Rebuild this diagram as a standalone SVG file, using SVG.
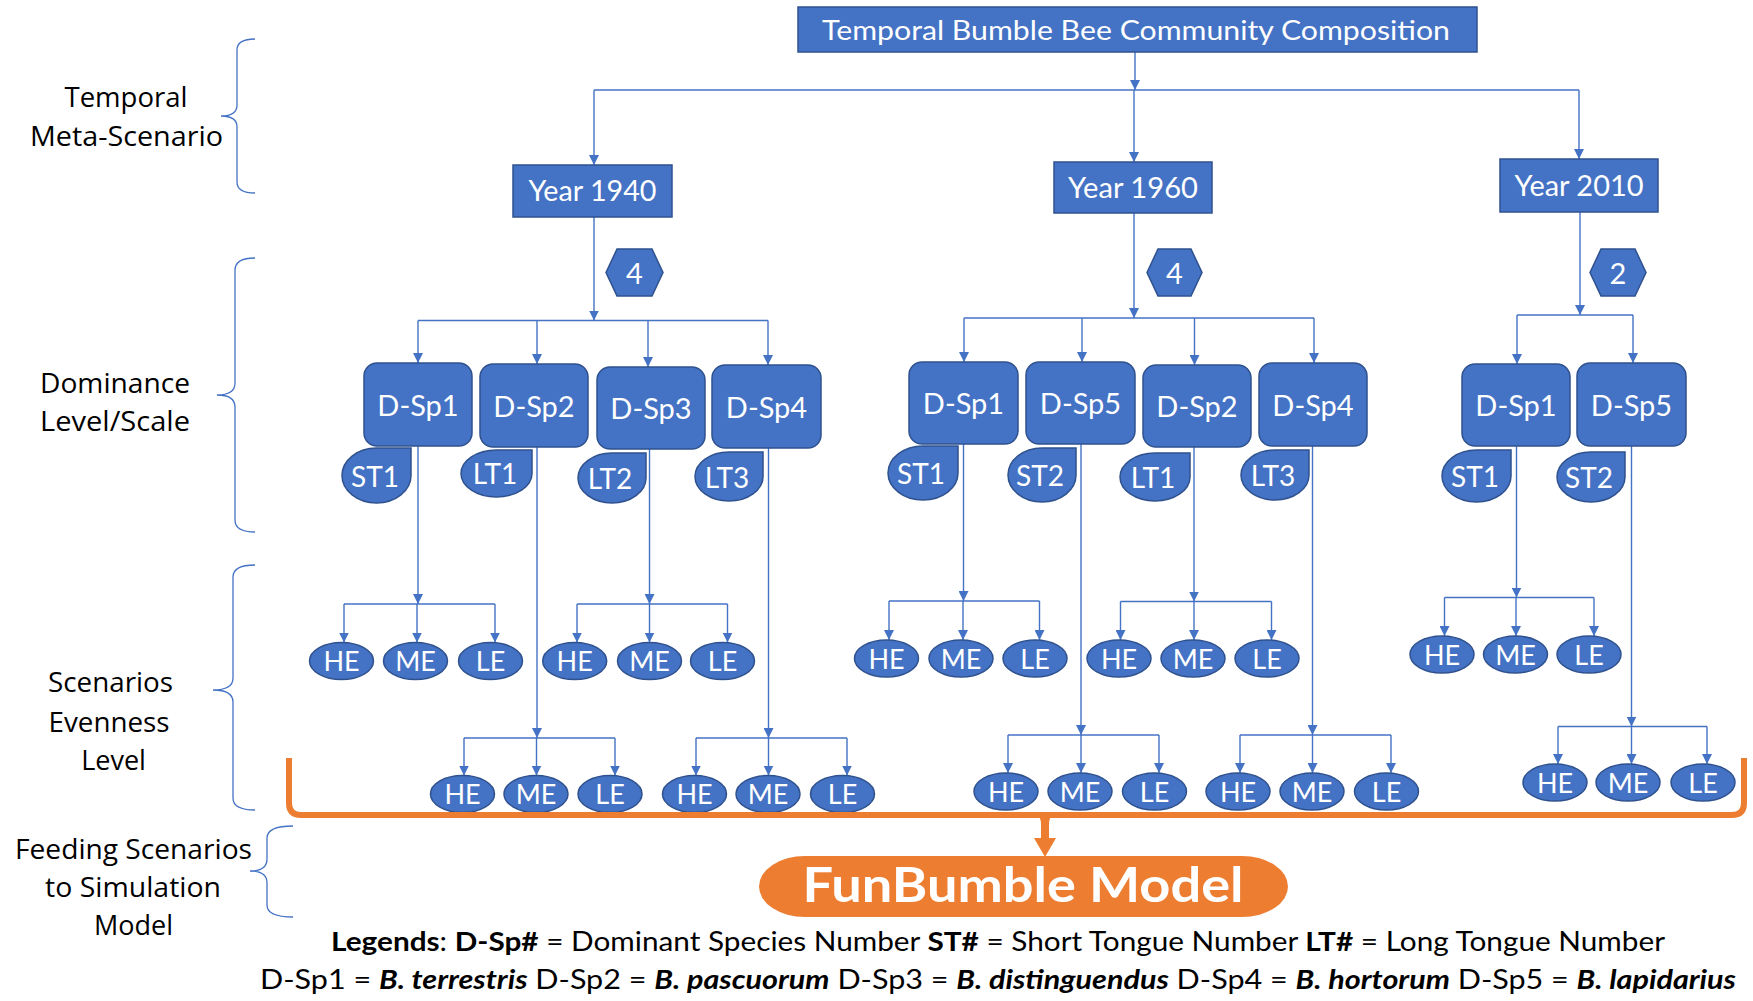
<svg xmlns="http://www.w3.org/2000/svg" width="1753" height="1001" viewBox="0 0 1753 1001">
<defs>
<style>
.box{fill:#4472C4;stroke:#2F528F;stroke-width:1.5}
.wt{fill:#fff;font-family:Lato,"Open Sans",sans-serif;text-anchor:middle}
.c{stroke:#4472C4;stroke-width:1.4;fill:none}
.ca{stroke:#4472C4;stroke-width:1.4;fill:none;marker-end:url(#arr)}
.lbl{fill:#000;font-family:"Open Sans",sans-serif;font-size:27px;text-anchor:middle}
.br{stroke:#4472C4;stroke-width:1.3;fill:none}
.leg{fill:#000;font-family:Lato,sans-serif;font-size:26px}
.b{font-weight:bold}
.bi{font-weight:bold;font-style:italic}
</style>
<marker id="arr" viewBox="0 0 10 10" refX="10" refY="5" markerWidth="10" markerHeight="10" markerUnits="userSpaceOnUse" orient="auto"><path d="M0,0 L10,5 L0,10 Z" fill="#4472C4"/></marker>
</defs>
<rect width="1753" height="1001" fill="#fff"/>

<g id="side-labels">
<path class="br" d="M255,39 Q237,39 237,50 V105 Q237,116 221,116 Q237,116 237,127 V182 Q237,193 255,193"/>
<text class="lbl" x="126" y="107" textLength="123" lengthAdjust="spacingAndGlyphs">Temporal</text>
<text class="lbl" x="126.5" y="146" textLength="193" lengthAdjust="spacingAndGlyphs">Meta-Scenario</text>
<path class="br" d="M255,258 Q235,258 235,270 V383 Q235,395 217,395 Q235,395 235,407 V520 Q235,532 255,532"/>
<text class="lbl" x="115" y="393" textLength="150" lengthAdjust="spacingAndGlyphs">Dominance</text>
<text class="lbl" x="115" y="431" textLength="150" lengthAdjust="spacingAndGlyphs">Level/Scale</text>
<path class="br" d="M255,565 Q233,565 233,577 V678 Q233,690 213,690 Q233,690 233,702 V798 Q233,810 255,810"/>
<text class="lbl" x="110.5" y="692" textLength="125" lengthAdjust="spacingAndGlyphs">Scenarios</text>
<text class="lbl" x="109" y="732" textLength="121" lengthAdjust="spacingAndGlyphs">Evenness</text>
<text class="lbl" x="113.5" y="770">Level</text>
<path class="br" d="M293,826 Q267,826 267,838 V859 Q267,871 250,871 Q267,871 267,883 V905 Q267,917 293,917"/>
<text class="lbl" x="133.5" y="859" textLength="237" lengthAdjust="spacingAndGlyphs">Feeding Scenarios</text>
<text class="lbl" x="133" y="897" textLength="176" lengthAdjust="spacingAndGlyphs">to Simulation</text>
<text class="lbl" x="133.5" y="935">Model</text>
</g>

<g id="connectors">
<line class="ca" x1="1135" y1="52" x2="1135" y2="90"/>
<line class="c" x1="594" y1="90" x2="1579" y2="90"/>
<line class="ca" x1="594" y1="90" x2="594" y2="165"/>
<line class="ca" x1="1134" y1="90" x2="1134" y2="162"/>
<line class="ca" x1="1579" y1="90" x2="1579" y2="159"/>

<line class="ca" x1="594" y1="217" x2="594" y2="320.5"/>
<line class="c" x1="418" y1="320.5" x2="768" y2="320.5"/>
<line class="ca" x1="418" y1="320.5" x2="418" y2="363"/>
<line class="ca" x1="537" y1="320.5" x2="537" y2="364"/>
<line class="ca" x1="648" y1="320.5" x2="648" y2="367"/>
<line class="ca" x1="768" y1="320.5" x2="768" y2="365"/>

<line class="ca" x1="1134" y1="213" x2="1134" y2="318"/>
<line class="c" x1="964" y1="318" x2="1314" y2="318"/>
<line class="ca" x1="964" y1="318" x2="964" y2="362"/>
<line class="ca" x1="1082" y1="318" x2="1082" y2="362"/>
<line class="ca" x1="1194.5" y1="318" x2="1194.5" y2="365"/>
<line class="ca" x1="1314" y1="318" x2="1314" y2="363"/>

<line class="ca" x1="1580" y1="212" x2="1580" y2="315"/>
<line class="c" x1="1517" y1="315" x2="1633" y2="315"/>
<line class="ca" x1="1517" y1="315" x2="1517" y2="364"/>
<line class="ca" x1="1633" y1="315" x2="1633" y2="363"/>

<line class="ca" x1="418" y1="446" x2="418" y2="604"/>
<line class="c" x1="344" y1="604" x2="495" y2="604"/>
<line class="ca" x1="344" y1="604" x2="344" y2="642.5"/>
<line class="ca" x1="417" y1="604" x2="417" y2="642.5"/>
<line class="ca" x1="495" y1="604" x2="495" y2="642.5"/>

<line class="ca" x1="649.5" y1="449" x2="649.5" y2="604"/>
<line class="c" x1="577" y1="604" x2="727.5" y2="604"/>
<line class="ca" x1="577" y1="604" x2="577" y2="642.5"/>
<line class="ca" x1="649.5" y1="604" x2="649.5" y2="642.5"/>
<line class="ca" x1="727.5" y1="604" x2="727.5" y2="642.5"/>

<line class="ca" x1="537" y1="447" x2="537" y2="738"/>
<line class="c" x1="464" y1="738" x2="615" y2="738"/>
<line class="ca" x1="464" y1="738" x2="464" y2="775.5"/>
<line class="ca" x1="536.5" y1="738" x2="536.5" y2="775.5"/>
<line class="ca" x1="615" y1="738" x2="615" y2="775.5"/>

<line class="ca" x1="768.5" y1="448" x2="768.5" y2="738"/>
<line class="c" x1="696" y1="738" x2="847" y2="738"/>
<line class="ca" x1="696" y1="738" x2="696" y2="775.5"/>
<line class="ca" x1="768.5" y1="738" x2="768.5" y2="775.5"/>
<line class="ca" x1="847" y1="738" x2="847" y2="775.5"/>

<line class="ca" x1="963.5" y1="444" x2="963.5" y2="601"/>
<line class="c" x1="889" y1="601" x2="1039.5" y2="601"/>
<line class="ca" x1="889" y1="601" x2="889" y2="640"/>
<line class="ca" x1="963" y1="601" x2="963" y2="640"/>
<line class="ca" x1="1039.5" y1="601" x2="1039.5" y2="640"/>

<line class="ca" x1="1194" y1="447" x2="1194" y2="601.5"/>
<line class="c" x1="1120.5" y1="601.5" x2="1271.5" y2="601.5"/>
<line class="ca" x1="1120.5" y1="601.5" x2="1120.5" y2="640"/>
<line class="ca" x1="1194" y1="601.5" x2="1194" y2="640"/>
<line class="ca" x1="1271.5" y1="601.5" x2="1271.5" y2="640"/>

<line class="ca" x1="1081" y1="444" x2="1081" y2="735"/>
<line class="c" x1="1008" y1="735" x2="1159" y2="735"/>
<line class="ca" x1="1008" y1="735" x2="1008" y2="773"/>
<line class="ca" x1="1081" y1="735" x2="1081" y2="773"/>
<line class="ca" x1="1159" y1="735" x2="1159" y2="773"/>

<line class="ca" x1="1312.5" y1="446" x2="1312.5" y2="735"/>
<line class="c" x1="1240" y1="735" x2="1391" y2="735"/>
<line class="ca" x1="1240" y1="735" x2="1240" y2="773"/>
<line class="ca" x1="1312.5" y1="735" x2="1312.5" y2="773"/>
<line class="ca" x1="1391" y1="735" x2="1391" y2="773"/>

<line class="ca" x1="1516.5" y1="446" x2="1516.5" y2="597.5"/>
<line class="c" x1="1444.5" y1="597.5" x2="1594" y2="597.5"/>
<line class="ca" x1="1444.5" y1="597.5" x2="1444.5" y2="636"/>
<line class="ca" x1="1516" y1="597.5" x2="1516" y2="636"/>
<line class="ca" x1="1594" y1="597.5" x2="1594" y2="636"/>

<line class="ca" x1="1631.5" y1="446" x2="1631.5" y2="726.5"/>
<line class="c" x1="1558" y1="726.5" x2="1707" y2="726.5"/>
<line class="ca" x1="1558" y1="726.5" x2="1558" y2="764"/>
<line class="ca" x1="1631.5" y1="726.5" x2="1631.5" y2="764"/>
<line class="ca" x1="1707" y1="726.5" x2="1707" y2="764"/>
</g>

<g id="root">
<rect class="box" x="798" y="7" width="679" height="45"/>
<text class="wt" x="1136" y="40" font-size="27" textLength="628" lengthAdjust="spacingAndGlyphs">Temporal Bumble Bee Community Composition</text>
</g>

<g id="year-1940">
<rect class="box" x="513" y="165" width="159" height="52"/>
<text class="wt" x="592.5" y="201" font-size="28" textLength="128" lengthAdjust="spacingAndGlyphs">Year 1940</text>
</g>
<g id="year-1960">
<rect class="box" x="1054" y="162" width="158" height="51"/>
<text class="wt" x="1133" y="198" font-size="28" textLength="130" lengthAdjust="spacingAndGlyphs">Year 1960</text>
</g>
<g id="year-2010">
<rect class="box" x="1500" y="159" width="158" height="53"/>
<text class="wt" x="1579" y="196" font-size="28" textLength="129" lengthAdjust="spacingAndGlyphs">Year 2010</text>
</g>

<g id="count-1940">
<polygon class="box" points="606,272.5 617,249 652,249 663,272.5 652,296 617,296"/>
<text class="wt" x="634.5" y="284" font-size="29">4</text>
</g>
<g id="count-1960">
<polygon class="box" points="1147,272.5 1158,249 1191,249 1202,272.5 1191,296 1158,296"/>
<text class="wt" x="1174.5" y="284" font-size="29">4</text>
</g>
<g id="count-2010">
<polygon class="box" points="1590,272.5 1601,249 1635,249 1646,272.5 1635,296 1601,296"/>
<text class="wt" x="1618" y="284" font-size="29">2</text>
</g>

<g id="d1940-sp1"><rect class="box" x="364" y="363" width="108" height="83" rx="13"/><text class="wt" x="418" y="415.5" font-size="29">D-Sp1</text></g>
<g id="d1940-sp2"><rect class="box" x="480" y="364" width="108" height="83" rx="13"/><text class="wt" x="534" y="416.5" font-size="29">D-Sp2</text></g>
<g id="d1940-sp3"><rect class="box" x="597" y="367" width="108" height="82" rx="13"/><text class="wt" x="651" y="419" font-size="29">D-Sp3</text></g>
<g id="d1940-sp4"><rect class="box" x="712" y="365" width="109" height="83" rx="13"/><text class="wt" x="766.5" y="417.5" font-size="29">D-Sp4</text></g>
<g id="d1960-sp1"><rect class="box" x="909" y="362" width="109" height="82" rx="13"/><text class="wt" x="963.5" y="414" font-size="29">D-Sp1</text></g>
<g id="d1960-sp5"><rect class="box" x="1026" y="362" width="109" height="82" rx="13"/><text class="wt" x="1080.5" y="414" font-size="29">D-Sp5</text></g>
<g id="d1960-sp2"><rect class="box" x="1143" y="365" width="108" height="82" rx="13"/><text class="wt" x="1197" y="417" font-size="29">D-Sp2</text></g>
<g id="d1960-sp4"><rect class="box" x="1259" y="363" width="108" height="83" rx="13"/><text class="wt" x="1313" y="415.5" font-size="29">D-Sp4</text></g>
<g id="d2010-sp1"><rect class="box" x="1462" y="364" width="108" height="82" rx="13"/><text class="wt" x="1516" y="416" font-size="29">D-Sp1</text></g>
<g id="d2010-sp5"><rect class="box" x="1577" y="363" width="109" height="83" rx="13"/><text class="wt" x="1631.5" y="415.5" font-size="29">D-Sp5</text></g>

<g id="t1940-st1"><path class="box" d="M376.5,448 H411 V475.5 A34.5,27.5 0 1 1 376.5,448 Z"/><text class="wt" x="375" y="486.5" font-size="28">ST1</text></g>
<g id="t1940-lt1"><path class="box" d="M496.5,450 H532 V473.5 A35.5,23.5 0 1 1 496.5,450 Z"/><text class="wt" x="495" y="484" font-size="28">LT1</text></g>
<g id="t1940-lt2"><path class="box" d="M612,453 H646 V478 A34,25 0 1 1 612,453 Z"/><text class="wt" x="610" y="489" font-size="28">LT2</text></g>
<g id="t1940-lt3"><path class="box" d="M729,452 H763 V476.5 A34,24.5 0 1 1 729,452 Z"/><text class="wt" x="727" y="487.5" font-size="28">LT3</text></g>
<g id="t1960-st1"><path class="box" d="M923,446 H958 V473 A35,27 0 1 1 923,446 Z"/><text class="wt" x="921" y="484" font-size="28">ST1</text></g>
<g id="t1960-st2"><path class="box" d="M1042,448 H1076 V475 A34,27 0 1 1 1042,448 Z"/><text class="wt" x="1040" y="486" font-size="28">ST2</text></g>
<g id="t1960-lt1"><path class="box" d="M1155,453 H1190 V477 A35,24 0 1 1 1155,453 Z"/><text class="wt" x="1153" y="488" font-size="28">LT1</text></g>
<g id="t1960-lt3"><path class="box" d="M1275,450 H1309 V475 A34,25 0 1 1 1275,450 Z"/><text class="wt" x="1273" y="486" font-size="28">LT3</text></g>
<g id="t2010-st1"><path class="box" d="M1476.5,450 H1511 V476 A34.5,26 0 1 1 1476.5,450 Z"/><text class="wt" x="1475" y="487" font-size="28">ST1</text></g>
<g id="t2010-st2"><path class="box" d="M1591,452 H1625 V477 A34,25 0 1 1 1591,452 Z"/><text class="wt" x="1589" y="488" font-size="28">ST2</text></g>

<g id="e1940-sp1">
<ellipse class="box" cx="341.5" cy="661" rx="32" ry="18.5"/><text class="wt" x="341.5" y="671" font-size="27">HE</text>
<ellipse class="box" cx="415.5" cy="661" rx="32" ry="18.5"/><text class="wt" x="415.5" y="671" font-size="27">ME</text>
<ellipse class="box" cx="490.5" cy="661" rx="32" ry="18.5"/><text class="wt" x="490.5" y="671" font-size="27">LE</text>
</g>
<g id="e1940-sp3">
<ellipse class="box" cx="574.7" cy="661" rx="32" ry="18.5"/><text class="wt" x="574.7" y="671" font-size="27">HE</text>
<ellipse class="box" cx="649.5" cy="661" rx="32" ry="18.5"/><text class="wt" x="649.5" y="671" font-size="27">ME</text>
<ellipse class="box" cx="722.5" cy="661" rx="32" ry="18.5"/><text class="wt" x="722.5" y="671" font-size="27">LE</text>
</g>
<g id="e1940-sp2">
<ellipse class="box" cx="462.5" cy="794" rx="32" ry="18.5"/><text class="wt" x="462.5" y="804" font-size="27">HE</text>
<ellipse class="box" cx="536" cy="794" rx="32" ry="18.5"/><text class="wt" x="536" y="804" font-size="27">ME</text>
<ellipse class="box" cx="610" cy="794" rx="32" ry="18.5"/><text class="wt" x="610" y="804" font-size="27">LE</text>
</g>
<g id="e1940-sp4">
<ellipse class="box" cx="694.5" cy="794" rx="32" ry="18.5"/><text class="wt" x="694.5" y="804" font-size="27">HE</text>
<ellipse class="box" cx="768" cy="794" rx="32" ry="18.5"/><text class="wt" x="768" y="804" font-size="27">ME</text>
<ellipse class="box" cx="842.5" cy="794" rx="32" ry="18.5"/><text class="wt" x="842.5" y="804" font-size="27">LE</text>
</g>
<g id="e1960-sp1">
<ellipse class="box" cx="886.5" cy="658.5" rx="32" ry="18.5"/><text class="wt" x="886.5" y="668.5" font-size="27">HE</text>
<ellipse class="box" cx="961" cy="658.5" rx="32" ry="18.5"/><text class="wt" x="961" y="668.5" font-size="27">ME</text>
<ellipse class="box" cx="1035" cy="658.5" rx="32" ry="18.5"/><text class="wt" x="1035" y="668.5" font-size="27">LE</text>
</g>
<g id="e1960-sp2">
<ellipse class="box" cx="1119" cy="658.5" rx="32" ry="18.5"/><text class="wt" x="1119" y="668.5" font-size="27">HE</text>
<ellipse class="box" cx="1193" cy="658.5" rx="32" ry="18.5"/><text class="wt" x="1193" y="668.5" font-size="27">ME</text>
<ellipse class="box" cx="1267" cy="658.5" rx="32" ry="18.5"/><text class="wt" x="1267" y="668.5" font-size="27">LE</text>
</g>
<g id="e1960-sp5">
<ellipse class="box" cx="1006" cy="791.5" rx="32" ry="18.5"/><text class="wt" x="1006" y="801.5" font-size="27">HE</text>
<ellipse class="box" cx="1080" cy="791.5" rx="32" ry="18.5"/><text class="wt" x="1080" y="801.5" font-size="27">ME</text>
<ellipse class="box" cx="1154.5" cy="791.5" rx="32" ry="18.5"/><text class="wt" x="1154.5" y="801.5" font-size="27">LE</text>
</g>
<g id="e1960-sp4">
<ellipse class="box" cx="1238" cy="791.5" rx="32" ry="18.5"/><text class="wt" x="1238" y="801.5" font-size="27">HE</text>
<ellipse class="box" cx="1312" cy="791.5" rx="32" ry="18.5"/><text class="wt" x="1312" y="801.5" font-size="27">ME</text>
<ellipse class="box" cx="1386.5" cy="791.5" rx="32" ry="18.5"/><text class="wt" x="1386.5" y="801.5" font-size="27">LE</text>
</g>
<g id="e2010-sp1">
<ellipse class="box" cx="1442" cy="654.5" rx="32" ry="18.5"/><text class="wt" x="1442" y="664.5" font-size="27">HE</text>
<ellipse class="box" cx="1515.5" cy="654.5" rx="32" ry="18.5"/><text class="wt" x="1515.5" y="664.5" font-size="27">ME</text>
<ellipse class="box" cx="1589" cy="654.5" rx="32" ry="18.5"/><text class="wt" x="1589" y="664.5" font-size="27">LE</text>
</g>
<g id="e2010-sp5">
<ellipse class="box" cx="1555" cy="782.5" rx="32" ry="18.5"/><text class="wt" x="1555" y="792.5" font-size="27">HE</text>
<ellipse class="box" cx="1628" cy="782.5" rx="32" ry="18.5"/><text class="wt" x="1628" y="792.5" font-size="27">ME</text>
<ellipse class="box" cx="1703" cy="782.5" rx="32" ry="18.5"/><text class="wt" x="1703" y="792.5" font-size="27">LE</text>
</g>

<g id="feed-brace">
<path d="M289,758 V803 Q289,815 301,815 H1732 Q1744,815 1744,803 V758" fill="none" stroke="#ED7D31" stroke-width="6"/>
<path d="M1035,813 Q1041,815 1041,825 V838 H1034 L1045,857 L1056,838 H1049 V825 Q1049,815 1055,813 Z" fill="#ED7D31"/>
</g>

<g id="funbumble">
<rect x="759" y="856" width="529" height="61" rx="46" ry="30.5" fill="#ED7D31"/>
<text x="1023" y="902" fill="#fff" font-family="Lato,sans-serif" font-weight="bold" font-size="48" text-anchor="middle" textLength="441" lengthAdjust="spacingAndGlyphs">FunBumble Model</text>
</g>

<g id="legend">
<text class="leg" x="331" y="951" textLength="1334" lengthAdjust="spacingAndGlyphs"><tspan class="b">Legends</tspan>: <tspan class="b">D-Sp#</tspan> = Dominant Species Number <tspan class="b">ST#</tspan> = Short Tongue Number <tspan class="b">LT#</tspan> = Long Tongue Number</text>
<text class="leg" x="260" y="989" textLength="1476" lengthAdjust="spacingAndGlyphs">D-Sp1 = <tspan class="bi">B. terrestris</tspan> D-Sp2 = <tspan class="bi">B. pascuorum</tspan> D-Sp3 = <tspan class="bi">B. distinguendus</tspan> D-Sp4 = <tspan class="bi">B. hortorum</tspan> D-Sp5 = <tspan class="bi">B. lapidarius</tspan></text>
</g>
</svg>
